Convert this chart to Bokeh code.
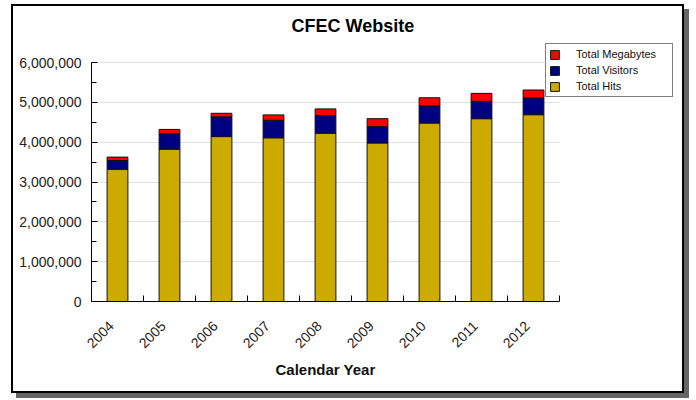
import math
from bokeh.plotting import figure
from bokeh.models import (Range1d, FixedTicker, SingleIntervalTicker, NumeralTickFormatter,
                          Legend, LegendItem, ColumnDataSource, Title, LinearAxis)
from bokeh.embed import file_html
from bokeh.resources import INLINE

years = ["2004", "2005", "2006", "2007", "2008", "2009", "2010", "2011", "2012"]
total_hits = [3320000, 3825000, 4140000, 4110000, 4225000, 3980000, 4480000, 4590000, 4690000]
total_visitors = [220000, 385000, 495000, 440000, 445000, 410000, 430000, 435000, 420000]
total_megabytes = [85000, 110000, 90000, 135000, 165000, 200000, 205000, 200000, 200000]

y_ticks_interval = 1000000
y_max = 6000000

FONT = "Liberation Sans"

n = len(years)
centers = [i + 0.5 for i in range(n)]
label_pos = [c - 0.12 for c in centers]
boundaries = list(range(n + 1))

# frame is larger than the axis area so the legend can sit outside it
AXIS_W, FRAME_W = 468, 585
AXIS_H, FRAME_H = 239, 259
x_end = n * FRAME_W / AXIS_W
y_end = y_max * FRAME_H / AXIS_H

src = ColumnDataSource(dict(x=centers, hits=total_hits, visitors=total_visitors,
                            megabytes=total_megabytes, year=years))

p = figure(width=673, height=389, x_range=Range1d(0, x_end), y_range=Range1d(0, y_end),
           output_backend="svg", toolbar_location=None,
           min_border_left=78, min_border_right=10, min_border_top=36, min_border_bottom=94)
p.styles = {"border": "2px solid #000", "box-shadow": "5px 5px 0 #666",
            "margin-left": "11px", "margin-top": "4px"}

rs = p.vbar_stack(["hits", "visitors", "megabytes"], x="x", width=0.4, source=src,
                  color=["#CCAA00", "#000080", "#FF0000"],
                  line_color="#111111", line_width=1)

p.title.text = "CFEC Website"
p.title.text_font = FONT
p.title.text_font_size = "18px"
p.title.text_font_style = "bold"
p.title.text_color = "#000"
p.title.align = "left"
p.title.offset = 200
p.title.standoff = 14

p.outline_line_color = None
p.xgrid.visible = False
p.ygrid.grid_line_color = "#e2e2e2"
p.ygrid.grid_line_width = 1
p.ygrid.cross_bounds = (0, n)

xa = p.xaxis[0]
xa.bounds = (0, n)
xa.ticker = FixedTicker(ticks=label_pos, minor_ticks=boundaries)
xa.major_label_overrides = {c: y for c, y in zip(label_pos, years)}
xa.major_tick_line_color = None
xa.minor_tick_in = 6
xa.minor_tick_out = 0
xa.minor_tick_line_color = "#000"
xa.axis_line_color = "#000"
xa.major_label_orientation = math.pi / 4
xa.major_label_text_font = FONT
xa.major_label_text_font_size = "14px"
xa.major_label_text_color = "#222"
xa.major_label_standoff = 16

# invisible spacer axis to push the axis title down
spacer = LinearAxis(ticker=FixedTicker(ticks=[], minor_ticks=[]), axis_line_color=None,
                    major_tick_line_color=None, minor_tick_line_color=None,
                    major_tick_in=0, major_tick_out=13, minor_tick_in=0, minor_tick_out=0)
p.add_layout(spacer, "below")

xlabel = Title(text="Calendar Year", align="left", offset=184, standoff=7,
               text_font=FONT, text_font_size="15px", text_font_style="bold",
               text_color="#111")
p.add_layout(xlabel, "below")

ya = p.yaxis[0]
ya.bounds = (0, y_max)
ya.ticker = SingleIntervalTicker(interval=y_ticks_interval, num_minor_ticks=2)
ya.formatter = NumeralTickFormatter(format="0,0")
ya.major_tick_in = 6
ya.major_tick_out = 0
ya.minor_tick_in = 5
ya.minor_tick_out = 0
ya.major_tick_line_color = "#000"
ya.minor_tick_line_color = "#000"
ya.axis_line_color = "#000"
ya.major_label_text_font = FONT
ya.major_label_text_font_size = "14px"
ya.major_label_text_color = "#222"
ya.major_label_standoff = 10

legend = Legend(items=[LegendItem(label="Total Megabytes", renderers=[rs[2]]),
                       LegendItem(label="Total Visitors", renderers=[rs[1]]),
                       LegendItem(label="Total Hits", renderers=[rs[0]])],
                location=(454, 204))
legend.border_line_color = "#000"
legend.border_line_width = 1
legend.background_fill_color = "white"
legend.background_fill_alpha = 1
legend.label_text_font = FONT
legend.label_text_font_size = "11px"
legend.label_text_color = "#111"
legend.glyph_width = 11
legend.glyph_height = 11
legend.label_height = 14
legend.label_standoff = 16
legend.label_width = 93
legend.spacing = 2
legend.padding = 3
legend.margin = 0
p.add_layout(legend)

open("out.html", "w").write(file_html(p, INLINE))
